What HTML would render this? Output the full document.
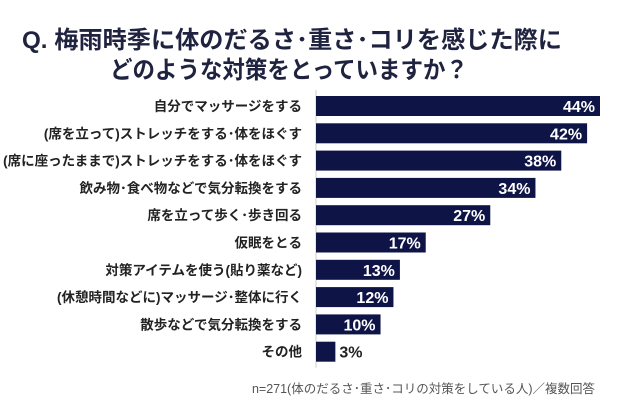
<!DOCTYPE html>
<html><head><meta charset="utf-8"><style>
html,body{margin:0;padding:0;background:#fff;}
svg{display:block;font-family:"Liberation Sans","Noto Sans CJK JP",sans-serif;}
</style></head><body>
<svg id="chart" width="624" height="413" viewBox="0 0 624 413">
<text x="22" y="48" font-size="24" font-weight="bold" fill="#1f2340" textLength="540" lengthAdjust="spacingAndGlyphs">Q. 梅雨時季に体のだるさ･重さ･コリを感じた際に</text>
<text x="110" y="78" font-size="24" font-weight="bold" fill="#1f2340" textLength="358" lengthAdjust="spacingAndGlyphs">どのような対策をとっていますか？</text>
<g id="bars"></g>
<text x="595" y="393" font-size="12.5" fill="#555" text-anchor="end">n=271(体のだるさ･重さ･コリの対策をしている人)／複数回答</text>
</svg>
<script>
const categories=["自分でマッサージをする","(席を立って)ストレッチをする･体をほぐす","(席に座ったままで)ストレッチをする･体をほぐす","飲み物･食べ物などで気分転換をする","席を立って歩く･歩き回る","仮眠をとる","対策アイテムを使う(貼り薬など)","(休憩時間などに)マッサージ･整体に行く","散歩などで気分転換をする","その他"];
const values=[44,42,38,34,27,17,13,12,10,3];
const valueLabels=["44%","42%","38%","34%","27%","17%","13%","12%","10%","3%"];
const NS="http://www.w3.org/2000/svg";
const x0=316,pxPer=284/44,y0=106,step=27.3,bh=20;
const xs=v=>x0+v*pxPer, ys=i=>y0+i*step;
const g=document.getElementById('bars');
function mk(t,a){const e=document.createElementNS(NS,t);for(const k in a)e.setAttribute(k,a[k]);return e;}
const ax=mk('line',{x1:x0,x2:x0,y1:ys(0)-bh/2-6,y2:ys(categories.length-1)+bh/2+6,stroke:'#ccc','stroke-width':1});


g.appendChild(ax);
categories.forEach((c,i)=>{
  const cy=ys(i);
  const r=mk('rect',{x:x0,y:cy-bh/2,width:xs(values[i])-x0,height:bh,fill:'#0f1447'});
  
  
  g.appendChild(r);
  const l=mk('text',{x:302,y:cy+5,'font-size':13.5,'font-weight':'bold',fill:'#222','text-anchor':'end'});
  l.textContent=c;
  
  
  g.appendChild(l);
  const w=xs(values[i])-x0;
  const inside=w>40;
  const v=mk('text',{x:inside?xs(values[i])-5:xs(values[i])+4,y:cy+6,'font-size':16,'font-weight':'bold',fill:inside?'#fff':'#222','text-anchor':inside?'end':'start'});
  v.textContent=valueLabels[i];
  
  
  g.appendChild(v);
});
</script>
</body></html>
